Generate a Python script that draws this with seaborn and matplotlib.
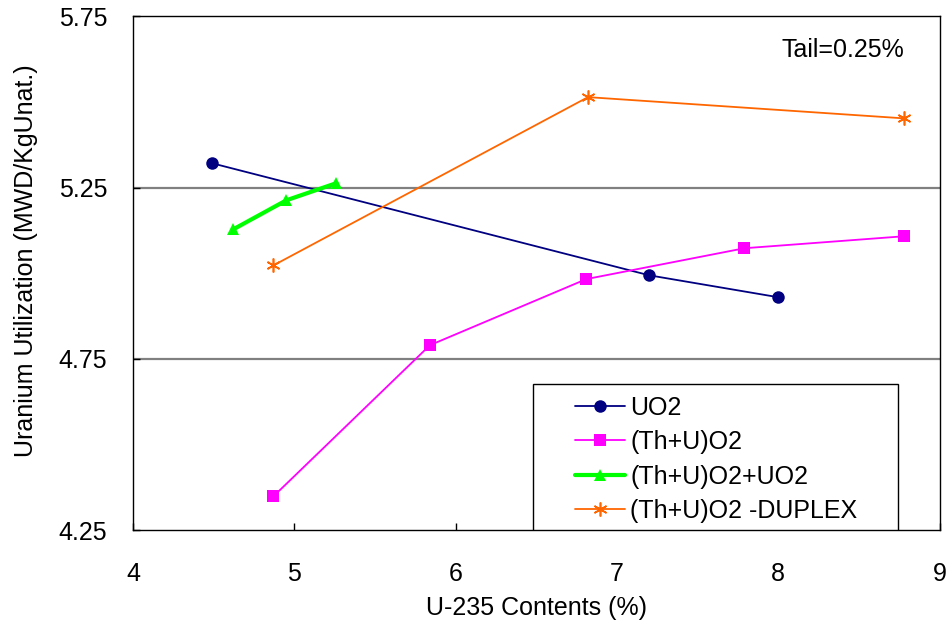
import pandas as pd
import matplotlib
matplotlib.use("Agg")
import matplotlib.pyplot as plt
from matplotlib.patches import Rectangle
import seaborn as sns

# values
uo2_x = [4.49, 7.20, 8.00]
uo2_y = [5.321, 4.994, 4.930]
thu_x = [4.87, 5.84, 6.81, 7.79, 8.78]
thu_y = [4.349, 4.790, 4.983, 5.073, 5.108]
mix_x = [4.62, 4.95, 5.26]
mix_y = [5.128, 5.213, 5.263]
dup_x = [4.87, 6.82, 8.78]
dup_y = [5.023, 5.514, 5.452]

labels = ["UO2", "(Th+U)O2", "(Th+U)O2+UO2", "(Th+U)O2 -DUPLEX"]
colors = ["#000080", "#FF00FF", "#00FF00", "#FF6600"]
markers = ["o", "s", "^", (6, 2, 0)]
widths = [1.3, 1.3, 3.0, 1.3]
msizes = [9, 9, 9, 10]

df = pd.concat([
    pd.DataFrame({"x": uo2_x, "y": uo2_y, "fuel": labels[0]}),
    pd.DataFrame({"x": thu_x, "y": thu_y, "fuel": labels[1]}),
    pd.DataFrame({"x": mix_x, "y": mix_y, "fuel": labels[2]}),
    pd.DataFrame({"x": dup_x, "y": dup_y, "fuel": labels[3]}),
])

sns.set_style("white")
plt.rcParams["font.family"] = ["Liberation Sans", "DejaVu Sans"]
plt.rcParams["text.color"] = "black"
plt.rcParams["axes.labelcolor"] = "black"
plt.rcParams["xtick.color"] = "black"
plt.rcParams["ytick.color"] = "black"

fig = plt.figure(figsize=(9.51, 6.26), dpi=100)
ax = fig.add_axes([0.14, 0.153, 0.848, 0.821])

for lab, c, m, w, s in zip(labels, colors, markers, widths, msizes):
    sub = df[df["fuel"] == lab]
    sns.lineplot(data=sub, x="x", y="y", ax=ax, color=c, marker=m, lw=w,
                 markersize=s, markeredgecolor=c, markeredgewidth=1.2 if m == (6, 2, 0) else 0,
                 label=lab, sort=False, estimator=None)

ax.set_xlim(4, 9)
ax.set_ylim(4.25, 5.75)
ax.set_xticks([4, 5, 6, 7, 8, 9])
ax.set_yticks([4.25, 4.75, 5.25, 5.75])
ax.set_yticklabels(["4.25", "4.75", "5.25", "5.75"])
ax.tick_params(axis="both", direction="in", length=5, width=1, labelsize=18,
               left=True, bottom=True)
ax.tick_params(axis="x", pad=23)
ax.tick_params(axis="y", pad=18.5)
ax.grid(False)
for yv in [4.75, 5.25]:
    ax.axhline(yv, color="#808080", lw=1.6, zorder=0)
for sp in ax.spines.values():
    sp.set_color("black")
    sp.set_linewidth(1.0)

ax.set_xlabel("U-235 Contents (%)", fontsize=18)
ax.set_ylabel("Uranium Utilization (MWD/KgUnat.)", fontsize=18)
ax.xaxis.set_label_coords(0.5, -0.128)
ax.yaxis.set_label_coords(-0.118, 0.525)

ax.text(0.956, 0.935, "Tail=0.25%", transform=ax.transAxes, ha="right",
        va="center", fontsize=18)

ax.add_patch(Rectangle((0.496, 0.0), 0.452, 0.284, transform=ax.transAxes,
                       facecolor="white", edgecolor="black", lw=1.0, zorder=5))
leg = ax.legend(loc="upper left", bbox_to_anchor=(0.548, 0.262), frameon=False,
                fontsize=18, handlelength=2.0, handletextpad=0.2,
                labelspacing=0.42, borderpad=0, borderaxespad=0)
leg.set_zorder(6)

fig.savefig("out.png", dpi=100)
